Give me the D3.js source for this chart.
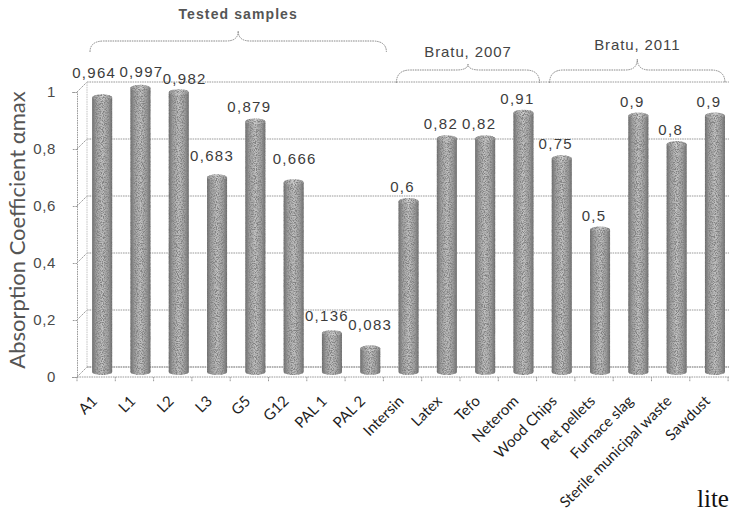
<!DOCTYPE html>
<html>
<head>
<meta charset="utf-8">
<script src="https://cdn.jsdelivr.net/npm/d3@7"></script>
<style>
  html, body { margin: 0; padding: 0; background: #fff; }
  svg { display: block; }
</style>
</head>
<body>
<svg id="chart" width="729" height="521"></svg>
<script>
// ---- data ----
const categories = ["A1", "L1", "L2", "L3", "G5", "G12", "PAL 1", "PAL 2", "Intersin", "Latex",
  "Tefo", "Neterom", "Wood Chips", "Pet pellets", "Furnace slag", "Sterile municipal waste", "Sawdust"];
const values = [0.964, 0.997, 0.982, 0.683, 0.879, 0.666, 0.136, 0.083, 0.6, 0.82,
  0.82, 0.91, 0.75, 0.5, 0.9, 0.8, 0.9];
const yTicks = [0, 0.2, 0.4, 0.6, 0.8, 1];
const groupNames = ["Tested samples", "Bratu, 2007", "Bratu, 2011"];
const groupFirst = ["A1", "Intersin", "Wood Chips"];
const groupLast = ["PAL 2", "Neterom", "Sawdust"];
const axisTitle = "Absorption Coefficient \u03b1max";

// ---- layout ----
const W = 729, H = 521;
const left = 77, step = 38.3;
const depth = { dx: 10, dy: -10 };       // offset from front to back wall
const barW = 20, capRy = 3;
// hand-placed nudges for crowded value labels
const labelNudge = { "A1": [-2, -10], "L1": [7, -2], "L2": [12, 1], "L3": [1, -7],
  "G12": [7, -9], "PAL 1": [1, -3], "PAL 2": [6, -9] };
// brace geometry per group: end y, flat y, peak y, caption baseline
const braceLayout = [
  { yEnd: 52, yFlat: 41, yPeak: 31, textY: 19, bold: true },
  { yEnd: 83, yFlat: 70, yPeak: 64, textY: 57, bold: false },
  { yEnd: 83, yFlat: 70, yPeak: 59, textY: 50, bold: false }
];

const svg = d3.select("#chart");
const locale = d3.formatLocale({ decimal: ",", thousands: ".", grouping: [3], currency: ["", ""] });
const fmt = locale.format("~g");

const x = d3.scaleBand().domain(categories).range([left, left + step * categories.length]).padding(0);
const y = d3.scaleLinear().domain([0, 1]).range([377, 92]);
const xRight = W;

// ---- defs: cylinder shading and grain ----
const defs = svg.append("defs");
const grad = defs.append("linearGradient").attr("id", "cyl").attr("x1", "0").attr("x2", "1").attr("y1", "0").attr("y2", "0");
[[0, "#666"], [0.18, "#9c9c9c"], [0.5, "#c2c2c2"], [0.82, "#9c9c9c"], [1, "#666"]]
  .forEach(([o, c]) => grad.append("stop").attr("offset", o).attr("stop-color", c));
const capGrad = defs.append("linearGradient").attr("id", "cap").attr("x1", "0").attr("x2", "1");
[[0, "#959595"], [0.5, "#d0d0d0"], [1, "#959595"]]
  .forEach(([o, c]) => capGrad.append("stop").attr("offset", o).attr("stop-color", c));

const grain = defs.append("filter").attr("id", "grain")
  .attr("x", "0").attr("y", "0").attr("width", "1").attr("height", "1");
grain.append("feTurbulence").attr("type", "fractalNoise").attr("baseFrequency", "0.85")
  .attr("numOctaves", 2).attr("seed", 7).attr("result", "noise");
grain.append("feColorMatrix").attr("in", "noise").attr("type", "matrix")
  .attr("values", "0 0 0 0 0.22  0 0 0 0 0.22  0 0 0 0 0.22  3.6 0 0 0 -1.45").attr("result", "dark");
grain.append("feComposite").attr("in", "dark").attr("in2", "SourceGraphic").attr("operator", "in").attr("result", "speck");
const merge = grain.append("feMerge");
merge.append("feMergeNode").attr("in", "SourceGraphic");
merge.append("feMergeNode").attr("in", "speck");

const lineStyle = sel => sel.attr("stroke", "#9a9a9a").attr("stroke-width", 1)
  .attr("stroke-dasharray", "1.6,0.8").attr("fill", "none");

// ---- back wall gridlines and side wall ----
const grid = svg.append("g");
yTicks.forEach(t => {
  grid.append("line").attr("x1", left + depth.dx).attr("x2", xRight)
    .attr("y1", y(t) + depth.dy).attr("y2", y(t) + depth.dy).call(lineStyle);
  grid.append("line").attr("x1", left).attr("x2", left + depth.dx)
    .attr("y1", y(t)).attr("y2", y(t) + depth.dy).call(lineStyle);
});
grid.append("line").attr("x1", left + depth.dx).attr("x2", left + depth.dx)
  .attr("y1", y(1) + depth.dy).attr("y2", y(0) + depth.dy).call(lineStyle).attr("stroke", "#c4c4c4");

// floor front edge with category ticks
grid.append("line").attr("x1", left).attr("x2", xRight).attr("y1", y(0)).attr("y2", y(0)).call(lineStyle);
categories.concat([null]).forEach((c, i) => {
  const xx = left + i * x.step();
  if (xx > W) return;
  grid.append("line").attr("x1", xx).attr("x2", xx).attr("y1", y(0)).attr("y2", y(0) + 5).call(lineStyle);
});

// ---- value axis ----
const yAxis = d3.axisLeft(y).tickValues(yTicks).tickSize(5).tickPadding(16).tickFormat(fmt);
const ag = svg.append("g").attr("transform", `translate(${left},0)`).call(yAxis);
ag.select(".domain").call(lineStyle);
ag.selectAll(".tick line").call(lineStyle);
ag.selectAll(".tick text").attr("fill", "#4a4a4a").attr("font-family", "'Liberation Sans', Arial, sans-serif")
  .attr("font-size", 15).attr("letter-spacing", 0.6);

svg.append("text")
  .attr("transform", `translate(25,230) rotate(-90)`)
  .attr("text-anchor", "middle")
  .attr("font-family", "Lato, 'Open Sans', sans-serif").attr("font-size", 22)
  .attr("fill", "#555").text(axisTitle);

// ---- cylinders ----
const mid = { dx: depth.dx / 2 + 1, dy: depth.dy / 2 };
const cx = c => x(c) + x.bandwidth() / 2 + mid.dx;
const bars = svg.append("g").attr("filter", "url(#grain)");
categories.forEach((c, i) => {
  const v = values[i];
  const top = y(v) + mid.dy, bot = y(0) + mid.dy;
  const g = bars.append("g");
  g.append("path")
    .attr("d", `M${cx(c) - barW / 2},${top} L${cx(c) - barW / 2},${bot}
      A${barW / 2},${capRy} 0 0 0 ${cx(c) + barW / 2},${bot} L${cx(c) + barW / 2},${top} Z`)
    .attr("fill", "url(#cyl)");
  g.append("ellipse").attr("cx", cx(c)).attr("cy", top).attr("rx", barW / 2).attr("ry", capRy)
    .attr("fill", "url(#cap)");
});

// back floor edge passes behind bar bases
svg.insert("line", "g[filter]").attr("x1", left + depth.dx).attr("x2", xRight)
  .attr("y1", y(0) + depth.dy).attr("y2", y(0) + depth.dy).call(lineStyle);

// ---- value labels ----
svg.append("g").selectAll("text").data(categories).join("text")
  .attr("x", (c, i) => x(c) + x.bandwidth() / 2 + (labelNudge[c] ? labelNudge[c][0] : 0))
  .attr("y", (c, i) => y(values[i]) + mid.dy - 9 + (labelNudge[c] ? labelNudge[c][1] : 0))
  .attr("text-anchor", "middle")
  .attr("font-family", "'Liberation Sans', Arial, sans-serif").attr("font-size", 15)
  .attr("letter-spacing", 1.3).attr("fill", "#3c3c3c")
  .text((c, i) => fmt(values[i]));

// ---- category labels ----
svg.append("g").selectAll("text").data(categories).join("text")
  .attr("transform", c => `translate(${x(c) + x.bandwidth() / 2 + 2},402) rotate(-45)`)
  .attr("text-anchor", "end")
  .attr("font-family", "Lato, 'Open Sans', sans-serif").attr("font-size", 15)
  .attr("fill", "#1e1e1e").text(c => c);

// ---- group braces ----
function bracePath(x1, x2, yEnd, yFlat, yPeak) {
  const xm = (x1 + x2) / 2, r = 14, r2 = 12;
  return `M${x1},${yEnd} Q${x1},${yFlat} ${x1 + r},${yFlat} L${xm - r2},${yFlat}
    Q${xm},${yFlat} ${xm},${yPeak} Q${xm},${yFlat} ${xm + r2},${yFlat}
    L${x2 - r},${yFlat} Q${x2},${yFlat} ${x2},${yEnd}`;
}
const braces = svg.append("g");
groupNames.forEach((name, i) => {
  const L = braceLayout[i];
  const x1 = x(groupFirst[i]) + depth.dx + 3;
  const x2 = Math.min(x(groupLast[i]) + x.bandwidth() + 3, W - 4);
  braces.append("path").attr("d", bracePath(x1, x2, L.yEnd, L.yFlat, L.yPeak))
    .call(lineStyle).attr("stroke", "#8a8a8a");
  braces.append("text").attr("x", (x1 + x2) / 2).attr("y", L.textY)
    .attr("text-anchor", "middle")
    .attr("font-family", "'Liberation Sans', Arial, sans-serif")
    .attr("font-size", L.bold ? 14 : 15).attr("font-weight", L.bold ? "bold" : "normal")
    .attr("letter-spacing", L.bold ? 1.1 : 0.9)
    .attr("fill", L.bold ? "#555" : "#444").text(name);
});

// ---- stray page text at the lower right ----
svg.append("text").attr("x", 697).attr("y", 507)
  .attr("font-family", "'Liberation Serif', 'Times New Roman', serif").attr("font-size", 25)
  .attr("fill", "#111").text("lite");
</script>
</body>
</html>
